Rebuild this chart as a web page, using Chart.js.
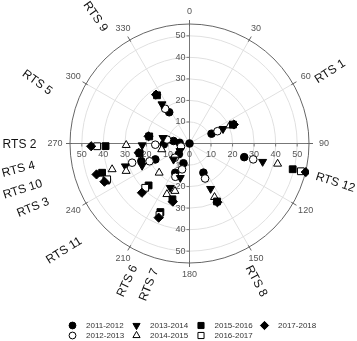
<!DOCTYPE html>
<html>
<head>
<meta charset="utf-8">
<script src="https://cdn.jsdelivr.net/npm/chart.js@4/dist/chart.umd.min.js"></script>
<style>
  html, body { margin: 0; padding: 0; background: #fff; }
  #wrap { width: 357px; height: 341px; }
</style>
</head>
<body>
<div id="wrap"><canvas id="chart"></canvas></div>
<script>
// displacement per season: [bearing (deg, clockwise from N), distance]
var years = ['2011-2012', '2012-2013', '2013-2014', '2014-2015', '2015-2016', '2016-2017', '2017-2018'];

var p2011 = [[0, 0], [66, 11.2], [104, 26.2], [154.5, 15.0], [327, 17.3], [268, 12.0], [279, 7.5],
             [274, 4.6], [250, 23.8], [245, 17.5], [225, 7.0], [206, 15.1], [197, 9.6]];
var p2012 = [[66.3, 14.2], [104, 30.5], [156, 17.8], [325, 19.7], [268, 15.9], [280, 10.6],
             [251.5, 28.1], [246, 20.3], [226, 9.5], [203, 16.8], [196, 12.5], [250, 4.2]];
var p2013 = [[66.4, 17.0], [104, 35.0], [155, 23.2], [325, 22.3], [268, 22.0], [282, 12.6],
             [250.5, 31.6], [245, 24.3], [225, 10.5], [203.5, 22.4], [195, 16.5], [232, 5.6]];
var p2014 = [[66, 20.5], [103, 42.0], [155, 27.5], [268.5, 29.4], [251.5, 37.9], [246.5, 32.1],
             [226, 19.6], [204, 25.8], [197, 23.1], [258, 13.2]];
var p2015 = [[66.5, 22.0], [104, 49.4], [154.6, 29.8], [326, 27.0], [268.2, 39.0], [280, 19.0],
             [251.5, 42.8], [246, 42.3], [224.3, 27.2], [203, 34.6], [197, 27.1], [259, 23.6]];
var p2016 = [[104, 53.3], [268.3, 42.9], [246.5, 41.7], [225, 29.1], [202.8, 36.0]];
var p2017 = [[66.8, 22.4], [103.8, 55.6], [154.6, 30.2], [325.6, 27.5], [268.4, 45.7], [280, 19.3],
             [251.6, 45.5], [245.8, 43.3], [224, 31.8], [202.6, 37.3], [196, 28.1], [259.7, 24.0]];

var radialTicks = [10, 20, 30, 40, 50];
var angleTicks = [0, 30, 60, 90, 120, 150, 180, 210, 240, 270, 300, 330];
var rMax = 55.5;

var siteNames = ['RTS 1', 'RTS 12', 'RTS 8', 'RTS 7', 'RTS 6', 'RTS 11', 'RTS 3', 'RTS 10', 'RTS 4', 'RTS 2', 'RTS 5', 'RTS 9'];

// label layout (bearing, px from centre, text rotation)
var siteBearing = [62.9, 105, 154.2, 196, 204.3, 229.5, 247.7, 254.6, 261.4, 269.7, 291.8, 323.4];
var siteDist = [158, 151, 153, 147, 151, 165, 169, 173, 173, 170, 164, 158];
var siteRot = [-33, 18, 62, -68, -65, -32, -22, -18, -15, 0, 36, 55];

var series = [p2011, p2012, p2013, p2014, p2015, p2016, p2017];
var marker = [
    { style: 'circle', fill: '#000', radius: 3.8, rot: 0 },
    { style: 'circle', fill: '#fff', radius: 3.8, rot: 0 },
    { style: 'triangle', fill: '#000', radius: 4.6, rot: 180 },
    { style: 'triangle', fill: '#fff', radius: 4.6, rot: 0 },
    { style: 'rect', fill: '#000', radius: 4.8, rot: 0 },
    { style: 'rect', fill: '#fff', radius: 4.8, rot: 0 },
    { style: 'rectRot', fill: '#000', radius: 4.6, rot: 0 }
];

function toXY(p) {
    var a = p[0] * Math.PI / 180;
    return { x: p[1] * Math.sin(a), y: p[1] * Math.cos(a) };
}

var polarGrid = {
    id: 'polarGrid',
    beforeDatasetsDraw: function(chart) {
        var ctx = chart.ctx, sx = chart.scales.x, sy = chart.scales.y;
        var cx = sx.getPixelForValue(0), cy = sy.getPixelForValue(0);
        var k = sx.getPixelForValue(1) - cx;
        var R = rMax * k;
        ctx.save();
        ctx.lineWidth = 1;

        ctx.strokeStyle = '#e0e0e0';
        radialTicks.forEach(function(r) {
            ctx.beginPath();
            ctx.arc(cx, cy, r * k, 0, 2 * Math.PI);
            ctx.stroke();
        });
        angleTicks.forEach(function(a) {
            if (a % 90 === 0) return;
            var t = a * Math.PI / 180;
            ctx.beginPath();
            ctx.moveTo(cx, cy);
            ctx.lineTo(cx + R * Math.sin(t), cy - R * Math.cos(t));
            ctx.stroke();
        });

        ctx.strokeStyle = '#777';
        ctx.beginPath();
        ctx.moveTo(cx - R, cy); ctx.lineTo(cx + R, cy);
        ctx.moveTo(cx, cy - R); ctx.lineTo(cx, cy + R);
        ctx.stroke();

        ctx.strokeStyle = '#666';
        ctx.beginPath();
        ctx.arc(cx, cy, R, 0, 2 * Math.PI);
        ctx.stroke();

        // angular ticks + labels
        ctx.font = '9px "Liberation Sans", Arial, sans-serif';
        ctx.fillStyle = '#555';
        ctx.textAlign = 'center';
        ctx.textBaseline = 'middle';
        angleTicks.forEach(function(a) {
            var t = a * Math.PI / 180, s = Math.sin(t), c = Math.cos(t);
            ctx.beginPath();
            ctx.moveTo(cx + (R - 2) * s, cy - (R - 2) * c);
            ctx.lineTo(cx + (R + 4) * s, cy - (R + 4) * c);
            ctx.stroke();
            var lr = R + 12 + Math.abs(s) * 3;
            ctx.fillText(String(a), cx + lr * s, cy - lr * c);
        });

        // radial axis ticks + labels
        ctx.strokeStyle = '#777';
        radialTicks.forEach(function(r) {
            var d = r * k;
            ctx.beginPath();
            ctx.moveTo(cx - 3, cy - d); ctx.lineTo(cx, cy - d);
            ctx.moveTo(cx - 3, cy + d); ctx.lineTo(cx, cy + d);
            ctx.moveTo(cx + d, cy); ctx.lineTo(cx + d, cy + 3);
            ctx.moveTo(cx - d, cy); ctx.lineTo(cx - d, cy + 3);
            ctx.stroke();
        });
        ctx.textAlign = 'right';
        radialTicks.forEach(function(r) {
            ctx.fillText(String(r), cx - 4, cy - r * k);
            ctx.fillText(String(r), cx - 4, cy + r * k);
        });
        ctx.textAlign = 'center';
        ctx.fillText('0', cx, cy + 11);
        radialTicks.forEach(function(r) {
            ctx.fillText(String(r), cx + r * k, cy + 11);
            ctx.fillText(String(r), cx - r * k, cy + 11);
        });

        // site labels
        ctx.font = '12px "Liberation Sans", Arial, sans-serif';
        ctx.fillStyle = '#111';
        siteNames.forEach(function(name, i) {
            var t = siteBearing[i] * Math.PI / 180;
            ctx.save();
            ctx.translate(cx + siteDist[i] * Math.sin(t), cy - siteDist[i] * Math.cos(t));
            ctx.rotate(siteRot[i] * Math.PI / 180);
            ctx.fillText(name, 0, 0);
            ctx.restore();
        });
        ctx.restore();
    },
    afterDraw: function(chart) {
        var ctx = chart.ctx;
        var colX = [72.5, 136.5, 201, 264.5], rowY = [325.5, 335.5];
        ctx.save();
        ctx.font = '8px "Liberation Sans", Arial, sans-serif';
        ctx.textAlign = 'left';
        ctx.textBaseline = 'middle';
        years.forEach(function(label, i) {
            var m = marker[i], x = colX[Math.floor(i / 2)], y = rowY[i % 2];
            ctx.fillStyle = m.fill;
            ctx.strokeStyle = '#000';
            ctx.lineWidth = 1;
            Chart.helpers.drawPoint(ctx, { pointStyle: m.style, radius: m.radius * 0.9, rotation: m.rot, borderWidth: 1 }, x, y);
            ctx.fillStyle = '#333';
            ctx.fillText(label, x + 13.5, y);
        });
        ctx.restore();
    }
};

var chart = new Chart(document.getElementById('chart'), {
    type: 'scatter',
    data: {
        datasets: series.map(function(pts, i) {
            return {
                label: years[i],
                data: pts.map(toXY),
                pointStyle: marker[i].style,
                pointRadius: marker[i].radius,
                pointRotation: marker[i].rot,
                pointBackgroundColor: marker[i].fill,
                pointBorderColor: '#000',
                pointBorderWidth: 1,
                order: series.length - i
            };
        })
    },
    options: {
        responsive: true,
        maintainAspectRatio: false,
        animation: false,
        layout: { padding: { left: 70, right: 48, top: 24, bottom: 78 } },
        scales: {
            x: { display: false, min: -rMax, max: rMax },
            y: { display: false, min: -rMax, max: rMax }
        },
        plugins: { legend: { display: false }, tooltip: { enabled: false } }
    },
    plugins: [polarGrid]
});
</script>
</body>
</html>
